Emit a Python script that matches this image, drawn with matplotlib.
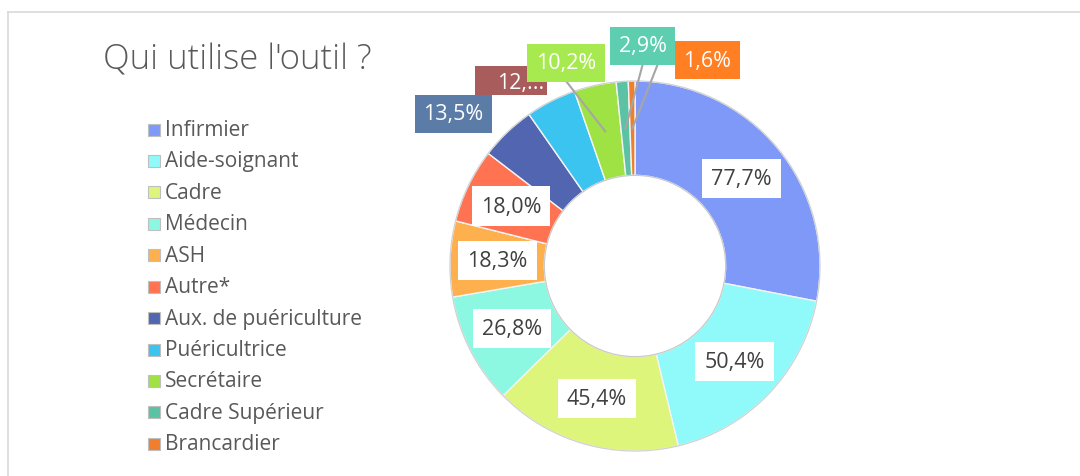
import matplotlib
matplotlib.use("Agg")
import matplotlib.pyplot as plt
import numpy as np
from matplotlib.lines import Line2D
from matplotlib.patches import Rectangle, Circle

# Data
categories = ["Infirmier", "Aide-soignant", "Cadre", "Médecin", "ASH", "Autre*",
              "Aux. de puériculture", "Puéricultrice", "Secrétaire",
              "Cadre Supérieur", "Brancardier"]
values = [77.7, 50.4, 45.4, 26.8, 18.3, 18.0, 13.5, 12.2, 10.2, 2.9, 1.6]
label_texts = ["77,7%", "50,4%", "45,4%", "26,8%", "18,3%", "18,0%",
               "13,5%", "12,...", "10,2%", "2,9%", "1,6%"]
title = "Qui utilise l'outil ?"

# Styles
colors = ["#7F99F8", "#90FAFA", "#DCF57A", "#8CF8E2", "#FFB04E", "#FF7352",
          "#5265B0", "#3CC4F0", "#9EE244", "#5CC2A4", "#EF7F2E"]
outside_box_colors = {6: "#5B7CA6", 7: "#A85C5C", 8: "#A6EA50", 9: "#5ECEB0", 10: "#FF7F22"}
# outside label placement (radius in units of outer radius, angle in degrees)
outside_pos = {6: (1.28, 140.0), 7: (1.17, 121.8), 8: (1.16, 108.7),
               9: (1.19, 88.0), 10: (1.18, 70.6)}
leader_from = {8: "bottom", 9: "bottom", 10: "left"}
# truncated label uses a fixed-size box (width, height, x/y offsets in outer radii)
trunc_box = {7: (0.39, 0.157, -0.054, 0.008)}

plt.rcParams["font.family"] = ["Open Sans", "DejaVu Sans"]

W, H = 1080, 477
fig = plt.figure(figsize=(W / 100, H / 100), dpi=100)

# frame lines
fig.add_artist(Line2D([8 / W, 1.0], [1 - 13 / H, 1 - 13 / H], color="#D9D9D9", lw=1.2))
fig.add_artist(Line2D([8 / W, 8 / W], [1 - 13 / H, 0], color="#D9D9D9", lw=1.2))

# donut axes: center (635, 267) px, outer radius 185 px
cx, cy, R = 635, 267, 185
lim = 1.4
half = lim * R
ax = fig.add_axes([(cx - half) / W, (H - cy - half) / H, 2 * half / W, 2 * half / H])

ring_w = 0.51
wedges, _ = ax.pie(values, colors=colors, startangle=90, counterclock=False,
                   radius=1.0,
                   wedgeprops=dict(width=ring_w, edgecolor="#F4F4F4", linewidth=1.0))
ax.set_xlim(-lim, lim)
ax.set_ylim(-lim, lim)
ax.set_aspect("equal")
ax.axis("off")

# subtle rims
ax.add_patch(Circle((0, 0), 1.0, fill=False, ec="#D0D0D0", lw=0.8, zorder=3))
ax.add_patch(Circle((0, 0), 1.0 - ring_w, fill=False, ec="#C8C8C8", lw=0.8, zorder=3))

mid_r = 1.0 - ring_w / 2
fs = 15.5
for i, w in enumerate(wedges):
    ang = np.deg2rad((w.theta1 + w.theta2) / 2)
    ax_pt = (mid_r * np.cos(ang), mid_r * np.sin(ang))
    if i in outside_pos:
        rr, aa = outside_pos[i]
        tx, ty = rr * np.cos(np.deg2rad(aa)), rr * np.sin(np.deg2rad(aa))
        if i in trunc_box:
            bw, bh, offx, offy = trunc_box[i]
            ax.add_patch(Rectangle((tx - bw / 2 + offx, ty - bh / 2 + offy), bw, bh,
                                   fc=outside_box_colors[i], ec="none", zorder=5))
            ax.text(tx, ty, label_texts[i], ha="center", va="center", fontsize=fs,
                    color="white", zorder=5.5)
        else:
            ax.text(tx, ty, label_texts[i], ha="center", va="center", fontsize=fs,
                    color="white", zorder=6,
                    bbox=dict(boxstyle="square,pad=0.4", fc=outside_box_colors[i], ec="none"))
        if i in leader_from:
            if leader_from[i] == "bottom":
                sx, sy = tx, ty - 0.10
            else:
                sx, sy = tx - 0.26, ty
            ax.plot([sx, ax_pt[0]], [sy, ax_pt[1]], color="#A6A6A6", lw=1.5, zorder=4)
    else:
        ax.text(ax_pt[0], ax_pt[1], label_texts[i], ha="center", va="center", fontsize=fs,
                color="#404040", zorder=6,
                bbox=dict(boxstyle="square,pad=0.42", fc="white", ec="none"))

# title
fig.text(103 / W, 1 - 60 / H, title, ha="left", va="center", fontsize=25,
         color="#595959", fontweight="light")

# legend
y0, dy = 130.5, 31.43
for i, (name, c) in enumerate(zip(categories, colors)):
    y = y0 + i * dy
    fig.add_artist(Rectangle((148 / W, 1 - (y + 6) / H), 12 / W, 12 / H,
                             fc=c, ec="#BFBFBF", lw=0.8, transform=fig.transFigure))
    fig.text(165 / W, 1 - y / H, name, ha="left", va="center", fontsize=15,
             color="#595959")

fig.savefig("out.png", dpi=100, facecolor="white")
